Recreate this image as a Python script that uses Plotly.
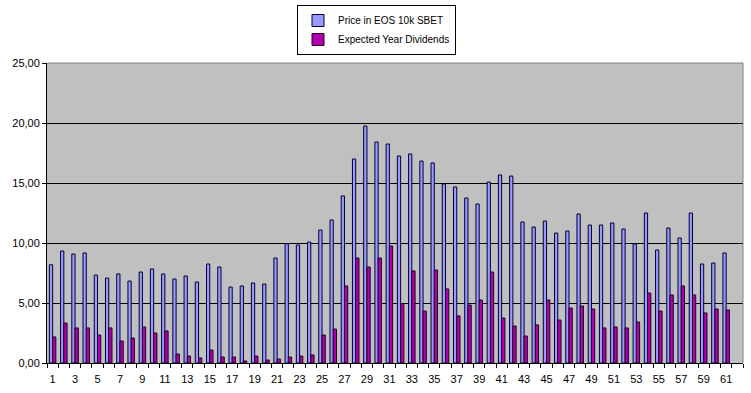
import plotly.graph_objects as go

categories = list(range(1, 62))
price = [8.19, 9.33, 9.08, 9.17, 7.33, 7.08, 7.42, 6.83, 7.58, 7.83,
         7.42, 7.00, 7.25, 6.75, 8.25, 8.00, 6.33, 6.42, 6.67, 6.58,
         8.75, 9.94, 9.83, 10.08, 11.08, 11.92, 13.92, 17.00, 19.75, 18.42,
         18.25, 17.25, 17.42, 16.83, 16.67, 14.92, 14.67, 13.75, 13.25, 15.08,
         15.67, 15.58, 11.75, 11.33, 11.83, 10.83, 11.00, 12.42, 11.50, 11.50,
         11.67, 11.17, 9.92, 12.50, 9.42, 11.25, 10.42, 12.50, 8.25, 8.33,
         9.17]
dividends = [2.17, 3.33, 2.92, 2.92, 2.33, 2.92, 1.83, 2.08, 3.00, 2.50,
             2.67, 0.75, 0.58, 0.42, 1.08, 0.50, 0.50, 0.17, 0.58, 0.25,
             0.33, 0.50, 0.58, 0.67, 2.33, 2.83, 6.42, 8.75, 8.00, 8.75,
             9.75, 4.94, 7.67, 4.33, 7.75, 6.17, 3.92, 4.83, 5.25, 7.58,
             3.75, 3.08, 2.25, 3.17, 5.25, 3.58, 4.58, 4.75, 4.50, 2.92,
             3.00, 2.92, 3.42, 5.83, 4.33, 5.67, 6.42, 5.67, 4.17, 4.50,
             4.42]
x_tick_values = list(range(1, 62, 2))
x_tick_labels = [str(v) for v in x_tick_values]
y_tick_values = [0, 5, 10, 15, 20, 25]

font = "Liberation Sans, Arial, sans-serif"

fig = go.Figure()
fig.add_trace(go.Bar(x=categories, y=price, name="Price in EOS 10k SBET",
                     marker=dict(color="#9999FF", line=dict(color="#000033", width=1))))
fig.add_trace(go.Bar(x=categories, y=dividends, name="Expected Year Dividends",
                     marker=dict(color="#B000B0", line=dict(color="#200020", width=1))))

L, R, T, B = 47, 8, 63, 30
W, H = 751, 393
pw, ph = W - L - R, H - T - B

fig.update_layout(
    width=W, height=H,
    margin=dict(l=L, r=R, t=T, b=B, pad=0, autoexpand=False),
    paper_bgcolor="white",
    plot_bgcolor="#C0C0C0",
    barmode="group",
    bargap=0.42,
    bargroupgap=0,
    separators=",.",
    font=dict(family=font, size=11, color="black"),
    showlegend=True,
    legend=dict(
        x=(376.5 - L) / pw, xanchor="center",
        y=1 + (T - 5) / ph, yanchor="top",
        bgcolor="white", bordercolor="black", borderwidth=1,
        font=dict(family=font, size=10, color="black"),
        tracegroupgap=0, itemwidth=30,
    ),
    xaxis=dict(
        range=[0.5, 62.5],
        tickvals=x_tick_values, ticktext=x_tick_labels,
        ticks="", showgrid=False, zeroline=False,
        showline=True, linecolor="black", linewidth=1,
        minor=dict(tick0=0.5, dtick=1, ticks="outside", ticklen=4,
                   tickcolor="black", showgrid=False),
        ticklabelstandoff=6,
        tickfont=dict(family=font, size=11, color="black"),
        fixedrange=True,
    ),
    yaxis=dict(
        range=[0, 25],
        tickvals=y_tick_values, tickformat=".2f",
        ticks="outside", ticklen=4, tickcolor="black",
        showgrid=True, gridcolor="black", gridwidth=1,
        zeroline=False,
        showline=True, linecolor="black", linewidth=1,
        tickfont=dict(family=font, size=11, color="black"),
        fixedrange=True,
    ),
    shapes=[
        dict(type="line", xref="paper", yref="paper", x0=0, x1=1, y0=1, y1=1,
             line=dict(color="#808080", width=1), layer="above"),
        dict(type="line", xref="paper", yref="paper", x0=1, x1=1, y0=0, y1=1,
             line=dict(color="#808080", width=1), layer="above"),
    ],
)

fig.write_html("out.html", config={"displayModeBar": False},
               post_script="document.body.style.margin='0';")
